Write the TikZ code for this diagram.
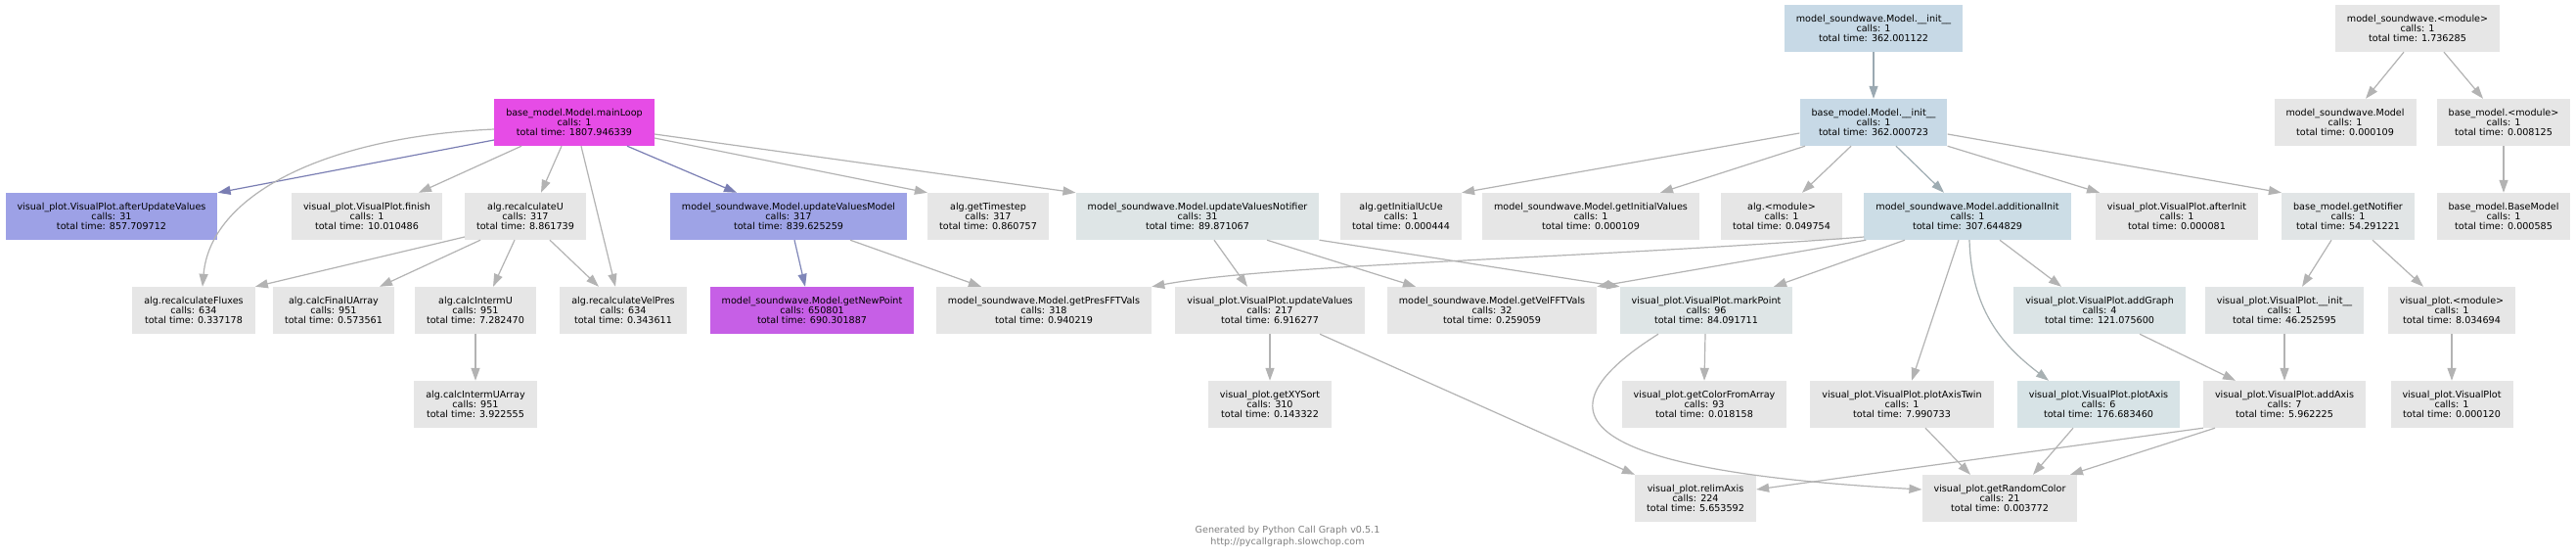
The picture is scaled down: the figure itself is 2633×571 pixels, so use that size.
\documentclass[tikz,border=0pt]{standalone}
\usepackage{fontspec}
\setmainfont{DejaVu Sans}
\usetikzlibrary{arrows.meta}
\definecolor{cMain}{HTML}{E64CE6}
\definecolor{cLavA}{HTML}{9DA1E6}
\definecolor{cLavB}{HTML}{9EA3E6}
\definecolor{cPurple}{HTML}{C65FE6}
\definecolor{cInit}{HTML}{C7D9E6}
\definecolor{cAddInit}{HTML}{CCDDE6}
\definecolor{cPlotAxis}{HTML}{D7E3E6}
\definecolor{cAddGraph}{HTML}{DBE4E6}
\definecolor{cNotif}{HTML}{DEE5E6}
\definecolor{cGetNot}{HTML}{E1E5E6}
\definecolor{cVPInit}{HTML}{E2E5E6}
\definecolor{cGray}{HTML}{E6E6E6}
\definecolor{eGray}{HTML}{B3B3B3}
\definecolor{eBlue}{HTML}{7A7EB3}
\definecolor{eBlue2}{HTML}{7F86B8}
\definecolor{eSlate}{HTML}{9BA9B2}
\definecolor{eSlate2}{HTML}{9EACB2}
\definecolor{eSlate3}{HTML}{A7B0B2}
\definecolor{cFoot}{HTML}{808080}
\tikzset{
  fn/.style={rectangle, fill=#1, draw=none, inner xsep=12pt, inner ysep=0pt,
    minimum height=48pt, align=center, text=black,
    font=\fontsize{9.6}{10.2}\selectfont},
  edgeline/.style={draw=#1, line width=1.2pt, -{Triangle[length=13pt,width=9pt]}},
  eg/.style={edgeline=eGray},
  eb/.style={edgeline=eBlue},
  eb2/.style={edgeline=eBlue2},
  es/.style={edgeline=eSlate},
  es2/.style={edgeline=eSlate2},
  es3/.style={edgeline=eSlate3},
}
\begin{document}
\begin{tikzpicture}[x=1pt,y=-1pt]
\useasboundingbox (0,0) rectangle (2633,571);
\fill[white] (0,0) rectangle (2633,571);
% row 0
\node[fn=cInit] (msInit) at (1915,29) {model\_soundwave.Model.\_\_init\_\_\\calls: 1\\total time: 362.001122};
\node[fn=cGray] (msModule) at (2471,29) {model\_soundwave.<module>\\calls: 1\\total time: 1.736285};
% row 1
\node[fn=cMain] (mainLoop) at (587,125) {base\_model.Model.mainLoop\\calls: 1\\total time: 1807.946339};
\node[fn=cInit] (bmInit) at (1915,125) {base\_model.Model.\_\_init\_\_\\calls: 1\\total time: 362.000723};
\node[fn=cGray] (msModel) at (2397,125) {model\_soundwave.Model\\calls: 1\\total time: 0.000109};
\node[fn=cGray] (bmModule) at (2559,125) {base\_model.<module>\\calls: 1\\total time: 0.008125};
% row 2
\node[fn=cLavA] (afterUpd) at (114,221) {visual\_plot.VisualPlot.afterUpdateValues\\calls: 31\\total time: 857.709712};
\node[fn=cGray] (finish) at (375,221) {visual\_plot.VisualPlot.finish\\calls: 1\\total time: 10.010486};
\node[fn=cGray] (recalcU) at (537,221) {alg.recalculateU\\calls: 317\\total time: 8.861739};
\node[fn=cLavB] (updVM) at (806,221) {model\_soundwave.Model.updateValuesModel\\calls: 317\\total time: 839.625259};
\node[fn=cGray] (getTimestep) at (1010,221) {alg.getTimestep\\calls: 317\\total time: 0.860757};
\node[fn=cNotif] (updVN) at (1224,221) {model\_soundwave.Model.updateValuesNotifier\\calls: 31\\total time: 89.871067};
\node[fn=cGray] (getInitUcUe) at (1432,221) {alg.getInitialUcUe\\calls: 1\\total time: 0.000444};
\node[fn=cGray] (getInitVals) at (1626,221) {model\_soundwave.Model.getInitialValues\\calls: 1\\total time: 0.000109};
\node[fn=cGray] (algModule) at (1821,221) {alg.<module>\\calls: 1\\total time: 0.049754};
\node[fn=cAddInit] (addInit) at (2011,221) {model\_soundwave.Model.additionalInit\\calls: 1\\total time: 307.644829};
\node[fn=cGray] (afterInit) at (2225,221) {visual\_plot.VisualPlot.afterInit\\calls: 1\\total time: 0.000081};
\node[fn=cGetNot] (getNotifier) at (2400,221) {base\_model.getNotifier\\calls: 1\\total time: 54.291221};
\node[fn=cGray] (baseModel) at (2559,221) {base\_model.BaseModel\\calls: 1\\total time: 0.000585};
% row 3
\node[fn=cGray] (recalcFluxes) at (198,317) {alg.recalculateFluxes\\calls: 634\\total time: 0.337178};
\node[fn=cGray] (calcFinalU) at (341,317) {alg.calcFinalUArray\\calls: 951\\total time: 0.573561};
\node[fn=cGray] (calcIntermU) at (486,317) {alg.calcIntermU\\calls: 951\\total time: 7.282470};
\node[fn=cGray] (recalcVelPres) at (637,317) {alg.recalculateVelPres\\calls: 634\\total time: 0.343611};
\node[fn=cPurple] (getNewPoint) at (830,317) {model\_soundwave.Model.getNewPoint\\calls: 650801\\total time: 690.301887};
\node[fn=cGray] (getPresFFT) at (1067,317) {model\_soundwave.Model.getPresFFTVals\\calls: 318\\total time: 0.940219};
\node[fn=cGray] (vpUpdVals) at (1298,317) {visual\_plot.VisualPlot.updateValues\\calls: 217\\total time: 6.916277};
\node[fn=cGray] (getVelFFT) at (1525,317) {model\_soundwave.Model.getVelFFTVals\\calls: 32\\total time: 0.259059};
\node[fn=cNotif] (markPoint) at (1744,317) {visual\_plot.VisualPlot.markPoint\\calls: 96\\total time: 84.091711};
\node[fn=cAddGraph] (addGraph) at (2146,317) {visual\_plot.VisualPlot.addGraph\\calls: 4\\total time: 121.075600};
\node[fn=cVPInit] (vpInit) at (2335,317) {visual\_plot.VisualPlot.\_\_init\_\_\\calls: 1\\total time: 46.252595};
\node[fn=cGray] (vpModule) at (2506,317) {visual\_plot.<module>\\calls: 1\\total time: 8.034694};
% row 4
\node[fn=cGray] (calcIntermUArr) at (486,413) {alg.calcIntermUArray\\calls: 951\\total time: 3.922555};
\node[fn=cGray] (getXYSort) at (1298,413) {visual\_plot.getXYSort\\calls: 310\\total time: 0.143322};
\node[fn=cGray] (getColor) at (1742,413) {visual\_plot.getColorFromArray\\calls: 93\\total time: 0.018158};
\node[fn=cGray] (plotAxisTwin) at (1944,413) {visual\_plot.VisualPlot.plotAxisTwin\\calls: 1\\total time: 7.990733};
\node[fn=cPlotAxis] (plotAxis) at (2145,413) {visual\_plot.VisualPlot.plotAxis\\calls: 6\\total time: 176.683460};
\node[fn=cGray] (addAxis) at (2335,413) {visual\_plot.VisualPlot.addAxis\\calls: 7\\total time: 5.962225};
\node[fn=cGray] (visualPlot) at (2506,413) {visual\_plot.VisualPlot\\calls: 1\\total time: 0.000120};
% row 5
\node[fn=cGray] (relimAxis) at (1733,509) {visual\_plot.relimAxis\\calls: 224\\total time: 5.653592};
\node[fn=cGray] (getRandomColor) at (2044,509) {visual\_plot.getRandomColor\\calls: 21\\total time: 0.003772};
% footer
\node[align=center, text=cFoot, font=\fontsize{9.6}{11.6}\selectfont] (footer) at (1316,548) {Generated by Python Call Graph v0.5.1\\http://pycallgraph.slowchop.com};
% edges
\draw[es] (msInit) -- (bmInit);
\draw[eg] ([xshift=-14pt]msModule.south) -- ([xshift=21pt]msModel.north);
\draw[eg] ([xshift=27pt]msModule.south) -- ([xshift=-21pt]bmModule.north);
\draw[eg] (bmModule) -- (baseModel);
\draw[eb] ([yshift=-18pt]mainLoop.west) -- (afterUpd.north east);
\draw[eg] ([xshift=-54pt]mainLoop.south) -- ([xshift=53pt]finish.north);
\draw[eg] ([xshift=-13pt]mainLoop.south) -- ([xshift=16pt]recalcU.north);
\draw[eg] ([yshift=-7pt]mainLoop.west) .. controls (330,140) and (215,200) .. ([xshift=9pt]recalcFluxes.north);
\draw[eg] ([xshift=7pt]mainLoop.south) -- ([xshift=-8pt]recalcVelPres.north);
\draw[eb] ([xshift=54pt]mainLoop.south) -- ([xshift=-53pt]updVM.north);
\draw[eg] ([yshift=-16pt]mainLoop.east) -- (getTimestep.north west);
\draw[eg] ([yshift=-12pt]mainLoop.east) -- (updVN.north west);
\draw[eg] ([yshift=-21pt]recalcU.west) -- (recalcFluxes.north east);
\draw[eg] ([xshift=-46pt]recalcU.south) -- ([xshift=47pt]calcFinalU.north);
\draw[eg] ([xshift=-11pt]recalcU.south) -- ([xshift=18pt]calcIntermU.north);
\draw[eg] ([xshift=25pt]recalcU.south) -- ([xshift=-25pt]recalcVelPres.north);
\draw[eg] (calcIntermU) -- (calcIntermUArr);
\draw[eb2] ([xshift=6pt]updVM.south) -- ([xshift=-7pt]getNewPoint.north);
\draw[eg] ([xshift=63pt]updVM.south) -- ([xshift=-64pt]getPresFFT.north);
\draw[eg] ([xshift=17pt]updVN.south) -- ([xshift=-23pt]vpUpdVals.north);
\draw[eg] ([xshift=71pt]updVN.south) -- ([xshift=-78pt]getVelFFT.north);
\draw[eg] (updVN.south east) -- (markPoint.north west);
\draw[eg] ([yshift=-11pt]bmInit.west) -- (getInitUcUe.north east);
\draw[eg] ([xshift=-70pt]bmInit.south) -- ([xshift=71pt]getInitVals.north);
\draw[eg] ([xshift=-23pt]bmInit.south) -- ([xshift=21pt]algModule.north);
\draw[es2] ([xshift=23pt]bmInit.south) -- ([xshift=-24pt]addInit.north);
\draw[eg] (bmInit.south east) -- ([xshift=-79pt]afterInit.north);
\draw[eg] ([yshift=-12pt]bmInit.east) -- (getNotifier.north west);
\draw[eg] ([yshift=-21pt]addInit.west) .. controls (1600,265) and (1300,270) .. (getPresFFT.north east);
\draw[eg] ([xshift=2pt]addInit.south west) -- (getVelFFT.north east);
\draw[eg] ([xshift=-64pt]addInit.south) -- ([xshift=69pt]markPoint.north);
\draw[eg] ([xshift=33pt]addInit.south) -- ([xshift=-39pt]addGraph.north);
\draw[eg] ([xshift=-9pt]addInit.south) -- ([xshift=10pt]plotAxisTwin.north);
\draw[es3] ([xshift=2pt]addInit.south) .. controls (2015,320) and (2050,355) .. ([xshift=-51pt]plotAxis.north);
\draw[eg] ([xshift=-17pt]getNotifier.south) -- ([xshift=18pt]vpInit.north);
\draw[eg] ([xshift=25pt]getNotifier.south) -- ([xshift=-29pt]vpModule.north);
\draw[eg] ([xshift=41pt]addGraph.south) -- ([xshift=-50pt]addAxis.north);
\draw[eg] (vpInit) -- (addAxis);
\draw[eg] (vpModule) -- (visualPlot);
\draw[eg] (vpUpdVals) -- (getXYSort);
\draw[eg] ([xshift=51pt]vpUpdVals.south) -- (relimAxis.north west);
\draw[eg] ([xshift=-1pt]markPoint.south) -- (getColor.north);
\draw[eg] ([xshift=-49pt]markPoint.south) .. controls (1570,420) and (1600,480) .. ([yshift=9pt]getRandomColor.west);
\draw[eg] ([xshift=24pt]plotAxisTwin.south) -- ([xshift=-30pt]getRandomColor.north);
\draw[eg] ([xshift=-26pt]plotAxis.south) -- ([xshift=34pt]getRandomColor.north);
\draw[eg] ([xshift=-71pt]addAxis.south) -- ([xshift=72pt]getRandomColor.north);
\draw[eg] (addAxis.south west) -- ([yshift=9pt]relimAxis.east);
\end{tikzpicture}
\end{document}
